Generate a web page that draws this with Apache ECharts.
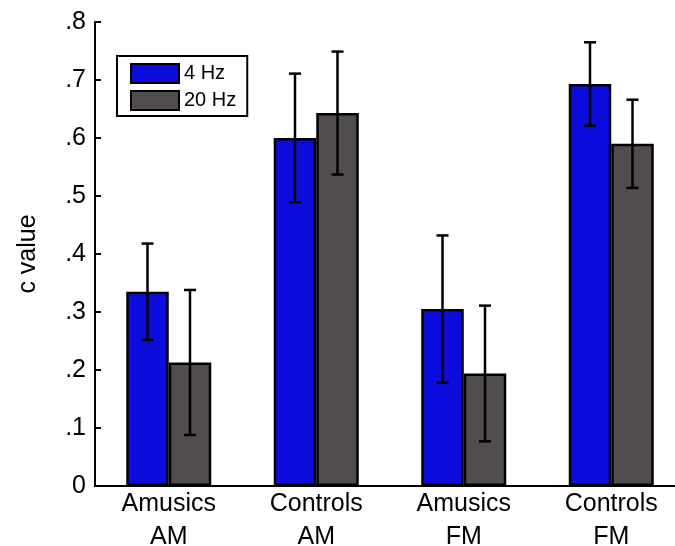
<!DOCTYPE html>
<html>
<head>
<meta charset="utf-8">
<script src="https://cdn.jsdelivr.net/npm/echarts@6/dist/echarts.min.js"></script>
<style>
  html, body { margin: 0; padding: 0; background: #fff; }
  #chart { width: 675px; height: 546px; }
</style>
</head>
<body>
<div id="chart"></div>
<script>
// Group labels (two lines each)
const categories = ['Amusics\nAM', 'Controls\nAM', 'Amusics\nFM', 'Controls\nFM'];
const seriesNames = ['4 Hz', '20 Hz'];

// Mean c values and error half-widths per group
const mean4Hz = [0.335, 0.600, 0.305, 0.693];
const err4Hz = [0.083, 0.111, 0.127, 0.072];
const mean20Hz = [0.213, 0.643, 0.194, 0.590];
const err20Hz = [0.125, 0.106, 0.117, 0.076];

// Y tick values and their labels
const yTicks = [0, 0.1, 0.2, 0.3, 0.4, 0.5, 0.6, 0.7, 0.8];
const yTickLabels = ['0', '.1', '.2', '.3', '.4', '.5', '.6', '.7', '.8'];

const FONT = 'Liberation Sans, Arial, sans-serif';
const BAR_W = 42.5;
const colors = ['#0c0cdc', '#514c4e'];

function errData(means, errs) {
  return means.map((m, i) => [i, m - errs[i], m + errs[i]]);
}

function errorBarRenderer(offsetSign) {
  return function (params, api) {
    const x = api.value(0);
    const lo = api.coord([x, api.value(1)]);
    const hi = api.coord([x, api.value(2)]);
    const cx = lo[0] + offsetSign * BAR_W / 2;
    const cap = 6;
    const style = { stroke: '#000', lineWidth: 2.5, fill: null };
    return {
      type: 'group',
      children: [
        { type: 'line', shape: { x1: cx, y1: hi[1], x2: cx, y2: lo[1] }, style: style },
        { type: 'line', shape: { x1: cx - cap, y1: hi[1], x2: cx + cap, y2: hi[1] }, style: style },
        { type: 'line', shape: { x1: cx - cap, y1: lo[1], x2: cx + cap, y2: lo[1] }, style: style }
      ]
    };
  };
}

const legendText = { fontFamily: FONT, fontSize: 20, color: '#000' };

const chart = echarts.init(document.getElementById('chart'), null, { renderer: 'canvas' });

chart.setOption({
  animation: false,
  backgroundColor: '#fff',
  grid: { left: 95, top: 22, width: 590, height: 464, outerBoundsMode: 'none', containLabel: false },
  legend: {
    orient: 'vertical',
    left: 117,
    top: 56,
    data: seriesNames.map(n => ({ name: n, textStyle: legendText })),
    itemWidth: 48,
    itemHeight: 19,
    itemGap: 6,
    padding: [7, 11, 5, 13],
    borderColor: '#000',
    borderWidth: 2,
    backgroundColor: '#fff',
    textStyle: legendText,
    icon: 'rect'
  },
  xAxis: {
    type: 'category',
    data: categories,
    axisLine: { lineStyle: { color: '#000', width: 2 } },
    axisTick: { show: false },
    axisLabel: {
      color: '#000',
      fontFamily: FONT,
      fontSize: 25,
      lineHeight: 33,
      margin: 2,
      interval: 0
    }
  },
  yAxis: {
    type: 'value',
    min: 0,
    max: 0.8,
    interval: 0.1,
    name: 'c value',
    nameLocation: 'middle',
    nameGap: 54,
    nameTextStyle: { fontFamily: FONT, fontSize: 25, color: '#000' },
    splitLine: { show: false },
    axisLine: { show: true, lineStyle: { color: '#000', width: 2 } },
    axisTick: { show: true, inside: true, length: 6, lineStyle: { color: '#000', width: 2 } },
    axisLabel: {
      color: '#000',
      fontFamily: FONT,
      fontSize: 25,
      margin: 9,
      formatter: function (v) {
        const i = yTicks.findIndex(t => Math.abs(t - v) < 1e-6);
        return i >= 0 ? yTickLabels[i] : '';
      }
    }
  },
  series: [
    {
      name: seriesNames[0],
      type: 'bar',
      data: mean4Hz,
      barWidth: BAR_W,
      barGap: '0%',
      itemStyle: { color: colors[0], borderColor: '#000', borderWidth: 2.5 }
    },
    {
      name: seriesNames[1],
      type: 'bar',
      data: mean20Hz,
      barWidth: BAR_W,
      barGap: '0%',
      itemStyle: { color: colors[1], borderColor: '#000', borderWidth: 2.5 }
    },
    {
      type: 'custom',
      renderItem: errorBarRenderer(-1),
      data: errData(mean4Hz, err4Hz),
      encode: { x: 0, y: [1, 2] },
      z: 5
    },
    {
      type: 'custom',
      renderItem: errorBarRenderer(1),
      data: errData(mean20Hz, err20Hz),
      encode: { x: 0, y: [1, 2] },
      z: 5
    }
  ]
});
</script>
</body>
</html>
